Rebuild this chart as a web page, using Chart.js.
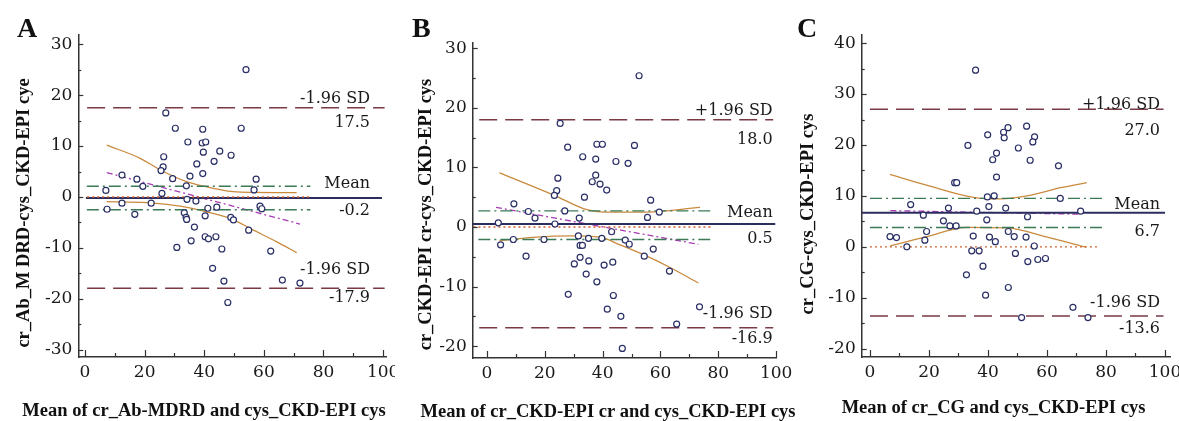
<!DOCTYPE html>
<html>
<head>
<meta charset="utf-8">
<script src="https://cdn.jsdelivr.net/npm/chart.js@4.4.1/dist/chart.umd.min.js"></script>
<style>
  body { margin: 0; background: #fff; }
  #wrap { position: relative; width: 1179px; height: 421px; overflow: hidden; }
  canvas { position: absolute; top: 0; }
</style>
</head>
<body>
<div id="wrap">
  <canvas id="chartA" width="395" height="421" style="left:0px"></canvas>
  <canvas id="chartB" width="410" height="421" style="left:395px"></canvas>
  <canvas id="chartC" width="389" height="421" style="left:790px"></canvas>
</div>
<script>
// ---- data ----
const xTicks = [0, 20, 40, 60, 80, 100];
const yTicksA = [-30, -20, -10, 0, 10, 20, 30];
const yTicksB = [-20, -10, 0, 10, 20, 30];
const yTicksC = [-20, -10, 0, 10, 20, 30, 40];

// Panel A: cr_Ab-MDRD vs cys_CKD-EPI cys
const aX = [54.0,27.1,30.3,39.5,52.4,34.5,39.3,40.5,39.7,45.2,49.0,26.4,43.3,37.5,26.2,25.5,39.5,35.2,29.4,12.4,17.4,19.4,34.0,57.4,56.7,7.0,25.8,34.2,37.2,12.4,22.2,7.4,16.7,41.2,44.2,58.7,59.3,33.3,33.9,34.1,40.3,48.9,49.8,36.7,54.9,30.8,35.6,40.3,41.4,43.9,45.9,62.3,42.8,46.6,66.2,72.1,47.9];
const aY = [25.0,16.5,13.5,13.3,13.5,10.8,10.6,10.8,8.8,9.0,8.2,7.9,7.0,6.5,5.9,5.2,4.6,4.1,3.6,4.3,3.5,2.1,2.2,3.5,1.4,1.3,0.7,-0.45,-0.8,-1.2,-1.2,-2.4,-3.4,-2.2,-2.0,-1.8,-2.3,-3.1,-4.0,-4.4,-3.7,-4.0,-4.5,-5.9,-6.5,-9.9,-8.6,-7.8,-8.2,-7.8,-10.2,-10.6,-14.0,-16.5,-16.3,-16.9,-20.7];
const limitsA = [17.5, -0.2, -17.9];       // +1.96 SD, mean, -1.96 SD
const ciA = [2.1, -2.5];                    // CI of mean
const regAx = [7.3, 72.1], regAy = [4.8, -5.3];
const upAx = [7.3, 18.5, 26.3, 34.1, 43.1, 50.9, 71.0];
const upAy = [10.2, 7.6, 5.0, 3.0, 1.7, 1.0, 0.85];
const loAx = [7.3, 20.7, 31.9, 40.8, 48.7, 56.5, 64.3, 71.0];
const loAy = [-0.9, -1.1, -1.8, -2.9, -4.2, -6.5, -8.8, -10.9];
const spansA = [[0.7, 100.5], [0.3, 99.6], [0.6, 75.6], [0.7, 76]]; // sd, mean, ci, zero

// Panel B: cr_CKD-EPI cr vs cys_CKD-EPI cys
const bX = [52.6,25.3,27.9,38.0,39.9,51.0,33.1,37.6,44.6,48.8,24.5,37.6,36.4,39.1,41.4,24.1,23.3,33.7,56.6,9.3,14.3,16.6,26.9,31.9,55.5,59.6,3.9,23.5,43.1,4.7,9.1,19.7,31.6,35.1,39.7,47.8,49.2,32.2,33.0,13.5,57.5,54.4,32.2,35.2,30.2,40.5,43.5,63.1,34.3,38.0,28.1,43.7,41.6,46.3,73.5,65.6,46.8];
const bY = [25.4,17.4,13.4,13.9,13.9,13.7,11.8,11.4,11.0,10.7,8.2,8.7,7.6,7.2,6.2,6.1,5.3,5.0,4.5,3.9,2.6,1.5,2.7,1.5,1.6,2.5,0.7,0.5,-0.8,-3.0,-2.1,-2.1,-1.5,-1.9,-1.9,-2.2,-2.9,-3.1,-3.1,-4.9,-3.7,-4.9,-5.1,-5.7,-6.2,-6.4,-5.9,-7.4,-7.9,-9.2,-11.3,-11.5,-13.8,-15.0,-13.4,-16.3,-20.4];
const limitsB = [18.0, 0.5, -16.9];
const ciB = [2.7, -2.1];
const regBx = [3.1, 73.1], regBy = [3.3, -2.9];
const upBx = [4.3, 22.9, 34.5, 40.2, 54.1, 73.7];
const upBy = [9.1, 5.4, 2.9, 2.5, 2.5, 3.3];
const loBx = [4.3, 17.2, 28.7, 39.1, 46.0, 55.3, 63.3, 73.1];
const loBy = [-2.3, -1.7, -1.5, -1.7, -3.0, -4.9, -6.8, -9.4];
const spansB = [[-2.7, 99], [-4.9, 99.7], [-3, 77.2], [-4.7, 77.7]];

// Panel C: cr_CG vs cys_CKD-EPI cys
const cX = [35.8,33.2,39.9,45.3,46.8,45.5,53.1,55.8,55.2,50.3,42.9,41.6,54.3,63.9,42.9,28.7,29.4,39.8,42.1,64.5,13.8,26.6,40.3,46.0,18.1,36.2,53.4,71.4,39.6,24.9,27.1,29.2,19.2,6.8,9.0,18.6,12.5,35.0,40.5,42.5,46.9,48.9,52.9,55.7,34.5,37.0,49.3,53.5,56.9,59.5,38.3,32.7,46.9,39.2,68.8,51.4,73.9];
const cY = [34.7,19.9,22.0,22.5,23.4,21.4,23.7,21.6,20.6,19.4,18.4,17.1,17.0,15.9,13.7,12.6,12.6,9.8,10.0,9.5,8.3,7.6,7.9,7.6,6.2,7.0,5.9,7.0,5.3,5.1,4.1,4.1,3.0,2.0,1.8,1.3,0.0,2.1,1.9,1.0,3.0,2.0,1.9,0.15,-0.8,-0.8,-1.3,-2.9,-2.5,-2.3,-3.8,-5.5,-8.0,-9.5,-11.9,-13.9,-13.9];
const limitsC = [27.0, 6.7, -13.6];
const ciC = [9.5, 3.8];
const regCx = [6.9, 71.4], regCy = [7.1, 6.4];
const upCx = [6.8, 19.2, 35.1, 44.3, 53.3, 64.6, 73.5];
const upCy = [14.2, 12.1, 9.7, 9.4, 10.0, 11.6, 12.6];
const loCx = [6.8, 19.2, 32.8, 46.5, 60.1, 73.2];
const loCy = [0.15, 2.0, 3.8, 3.7, 1.9, -0.1];
const spansC = [[0, 99.5], [-2.8, 100], [0, 78.8], [0, 77]];

// ---- styles ----
const FONT = 'DejaVu Serif';
const TITLE_FONT = 'Liberation Serif';
const AXIS = '#333';
const SD_COL = '#7a3a44', MEAN_COL = '#2b2d5e', CI_COL = '#3a7a55',
      REG_COL = '#a83cb4', BAND_COL = '#c98a3e', ZERO_COL = '#d0622e';

const zip = (xs, ys) => xs.map((x, i) => ({ x, y: ys[i] }));

function hline(y, span, color, width, dash) {
  return { type: 'line', data: [{ x: span[0], y }, { x: span[1], y }],
    borderColor: color, borderWidth: width, borderDash: dash, pointRadius: 0, fill: false };
}
function curve(xs, ys, color, width, dash, smooth) {
  return { type: 'line', data: zip(xs, ys), borderColor: color, borderWidth: width,
    borderDash: dash, pointRadius: 0, fill: false,
    cubicInterpolationMode: smooth ? 'monotone' : 'default' };
}

// inward tick marks, panel letter, axis titles and limit labels
const decor = {
  id: 'decor',
  afterDraw(chart, args, o) {
    const { ctx, chartArea: ca, scales: { x, y } } = chart;
    ctx.save();
    ctx.strokeStyle = AXIS;
    ctx.lineWidth = 1.2;
    for (let v = Math.ceil(y.min / 5) * 5; v <= y.max; v += 5) {
      const py = Math.round(y.getPixelForValue(v)) + 0.5;
      ctx.beginPath();
      ctx.moveTo(ca.left, py);
      ctx.lineTo(ca.left + (v % 10 === 0 ? 5 : 3), py);
      ctx.stroke();
    }
    for (let v = 0; v <= 100; v += 10) {
      const px = Math.round(x.getPixelForValue(v)) + 0.5;
      ctx.beginPath();
      ctx.moveTo(px, ca.bottom);
      ctx.lineTo(px, ca.bottom - (v % 20 === 0 ? 7 : 4));
      ctx.stroke();
    }

    ctx.fillStyle = '#111';
    ctx.textBaseline = 'alphabetic';
    ctx.font = 'bold 28px "' + TITLE_FONT + '"';
    ctx.textAlign = 'left';
    ctx.fillText(o.letter, o.letterPos[0], o.letterPos[1]);

    ctx.font = 'bold 18.5px "' + TITLE_FONT + '"';
    ctx.textAlign = 'center';
    ctx.fillText(o.xTitle, o.xTitlePos[0], o.xTitlePos[1]);
    ctx.save();
    ctx.translate(o.yTitlePos[0], o.yTitlePos[1]);
    ctx.rotate(-Math.PI / 2);
    ctx.textBaseline = 'middle';
    ctx.fillText(o.yTitle, 0, 0);
    ctx.restore();

    ctx.font = '16px "' + FONT + '"';
    ctx.textAlign = 'right';
    ctx.fillStyle = '#1a1a1a';
    const rx = ca.right - o.labelRight;
    o.limits.forEach((v, i) => {
      const py = y.getPixelForValue(v);
      ctx.fillText(o.names[i], rx, py - o.above[i]);
      ctx.fillText(v.toFixed(1), rx, py + o.below[i]);
    });
    ctx.restore();
  }
};

function makeChart(id, p) {
  const datasets = [
    { type: 'scatter', data: zip(p.xs, p.ys), pointStyle: 'circle', pointRadius: 3,
      pointBorderWidth: 1.2, pointBorderColor: '#2a2f66', pointBackgroundColor: '#fff' },
    hline(0, p.spans[3], ZERO_COL, 1.3, [2, 3]),
    hline(p.limits[1], p.spans[1], MEAN_COL, 2),
    hline(p.limits[0], p.spans[0], SD_COL, 1.5, [18, 8]),
    hline(p.limits[2], p.spans[0], SD_COL, 1.5, [18, 8]),
    hline(p.ci[0], p.spans[2], CI_COL, 1.4, [12, 4, 2, 4]),
    hline(p.ci[1], p.spans[2], CI_COL, 1.4, [12, 4, 2, 4]),
    curve(p.regX, p.regY, REG_COL, 1.3, [6, 3, 2, 3], false),
    curve(p.upX, p.upY, BAND_COL, 1.3, [], true),
    curve(p.loX, p.loY, BAND_COL, 1.3, [], true)
  ];
  return new Chart(document.getElementById(id), {
    type: 'scatter',
    data: { datasets },
    plugins: [decor],
    options: {
      responsive: false,
      animation: false,
      layout: { padding: { top: p.top, right: p.right, left: 0, bottom: 0 } },
      plugins: { legend: { display: false }, tooltip: { enabled: false }, decor: p.decor },
      scales: {
        x: {
          type: 'linear', min: p.xRange[0], max: p.xRange[1],
          grid: { display: false, drawTicks: false },
          border: { display: true, color: AXIS, width: 1.5 },
          ticks: { font: { family: FONT, size: 17 }, color: '#1a1a1a', padding: 5, maxRotation: 0 },
          afterBuildTicks: s => { s.ticks = xTicks.map(v => ({ value: v })); },
          afterFit: s => { s.height = p.xAxisH; s.paddingLeft = 0; s.paddingRight = 0; }
        },
        y: {
          type: 'linear', min: p.yRange[0], max: p.yRange[1],
          grid: { display: false, drawTicks: false },
          border: { display: true, color: AXIS, width: 1.5 },
          ticks: { font: { family: FONT, size: 17 }, color: '#1a1a1a', padding: 6 },
          afterBuildTicks: s => { s.ticks = p.yTicks.map(v => ({ value: v })); },
          afterFit: s => { s.width = p.yAxisW; s.paddingTop = 0; s.paddingBottom = 0; }
        }
      }
    }
  });
}

makeChart('chartA', {
  xs: aX, ys: aY, limits: limitsA, ci: ciA, regX: regAx, regY: regAy,
  upX: upAx, upY: upAy, loX: loAx, loY: loAy, spans: spansA, yTicks: yTicksA,
  xRange: [-2.25, 101.2], yRange: [-31.4, 31.8],
  top: 35, right: 8.3, yAxisW: 78.3, xAxisH: 64,
  decor: {
    letter: 'A', letterPos: [17, 37],
    xTitle: 'Mean of cr_Ab-MDRD and cys_CKD-EPI cys', xTitlePos: [204, 416],
    yTitle: 'cr_Ab_M DRD-cys_CKD-EPI cye', yTitlePos: [24, 213],
    names: ['-1.96 SD', 'Mean', '-1.96 SD'], limits: limitsA,
    above: [5, 10, 14], below: [19, 17, 14], labelRight: 16.7
  }
});

makeChart('chartB', {
  xs: bX, ys: bY, limits: limitsB, ci: ciB, regX: regBx, regY: regBy,
  upX: upBx, upY: upBy, loX: loBx, loY: loBy, spans: spansB, yTicks: yTicksB,
  xRange: [-4.95, 100.2], yRange: [-22.0, 30.9],
  top: 43, right: 28.3, yAxisW: 77.7, xAxisH: 63,
  decor: {
    letter: 'B', letterPos: [17, 37],
    xTitle: 'Mean of cr_CKD-EPI cr and cys_CKD-EPI cys', xTitlePos: [213, 416.5],
    yTitle: 'cr_CKD-EPI cr-cys_CKD-EPI cys', yTitlePos: [31, 214.5],
    names: ['+1.96 SD', 'Mean', '-1.96 SD'], limits: limitsB,
    above: [5, 7, 10], below: [24, 19, 15], labelRight: 4
  }
});

makeChart('chartC', {
  xs: cX, ys: cY, limits: limitsC, ci: ciC, regX: regCx, regY: regCy,
  upX: upCx, upY: upCy, loX: loCx, loY: loCy, spans: spansC, yTicks: yTicksC,
  xRange: [-2.8, 101.7], yRange: [-21.65, 41.6],
  top: 35, right: 9, yAxisW: 71.7, xAxisH: 64,
  decor: {
    letter: 'C', letterPos: [7, 37],
    xTitle: 'Mean of cr_CG and cys_CKD-EPI cys', xTitlePos: [203.5, 413],
    yTitle: 'cr_CG-cys_CKD-EPI cys', yTitlePos: [18, 214],
    names: ['+1.96 SD', 'Mean', '-1.96 SD'], limits: limitsC,
    above: [0, 4, 9], below: [26, 23, 17], labelRight: 10
  }
});
</script>
</body>
</html>
